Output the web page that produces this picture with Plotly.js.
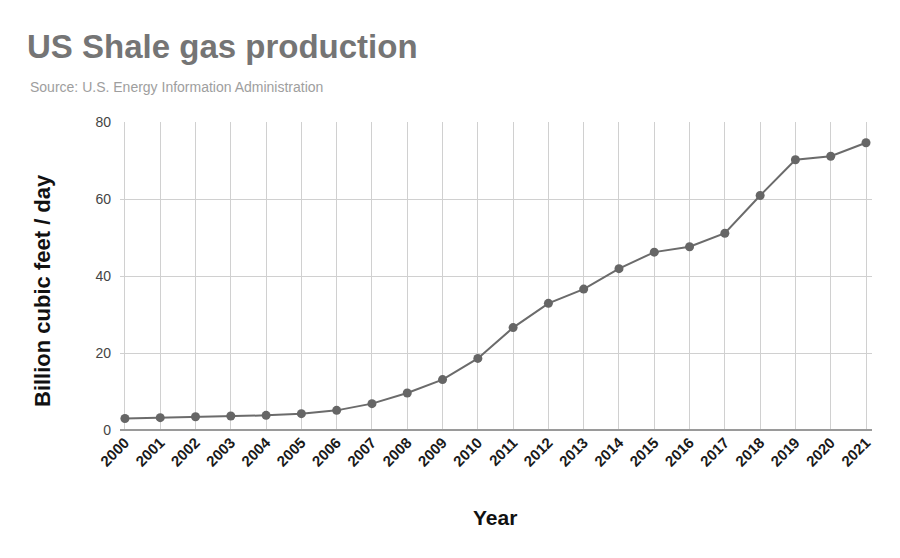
<!DOCTYPE html>
<html><head><meta charset="utf-8">
<script src="https://cdn.plot.ly/plotly-3.0.1.min.js"></script>
<style>html,body{margin:0;padding:0;background:#fff;}#chart{width:900px;height:558px;}</style>
</head><body><div id="chart"></div>
<script>
const years = ["2000","2001","2002","2003","2004","2005","2006","2007","2008","2009","2010","2011","2012","2013","2014","2015","2016","2017","2018","2019","2020","2021"];
const production = [3.0,3.2,3.45,3.65,3.8,4.25,5.1,6.85,9.6,13.1,18.6,26.6,32.9,36.6,41.9,46.2,47.6,51.1,60.9,70.2,71.1,74.6];
const yTicks = [0,20,40,60,80];

const font = "Arial, 'Liberation Sans', sans-serif";
const L = 120, R = 28, T = 122, B = 128, W = 900, H = 558;
const pw = W - L - R, ph = H - T - B;
Plotly.newPlot('chart', [{
  x: years, y: production, type: 'scatter', mode: 'lines+markers',
  line: {color: '#6b6b6b', width: 2},
  marker: {color: '#666666', size: 9},
  hoverinfo: 'x+y'
}], {
  width: W, height: H,
  margin: {l: L, r: R, t: T, b: B},
  paper_bgcolor: '#ffffff', plot_bgcolor: '#ffffff',
  showlegend: false,
  font: {family: font, color: '#222'},
  title: {text: '<b>US Shale gas production</b>', font: {family: font, size: 33, color: '#757575'},
          x: 27/W, xanchor: 'left', xref: 'container', y: 1 - 46/H, yanchor: 'middle', yref: 'container'},
  annotations: [
    {text: 'Source: U.S. Energy Information Administration', xref: 'paper', yref: 'paper',
     x: (28-L)/pw, y: 1 + (T-87)/ph, xanchor: 'left', yanchor: 'middle', showarrow: false,
     font: {family: font, size: 14, color: '#9e9e9e'}},
    {text: '<b>Billion cubic feet / day</b>', xref: 'paper', yref: 'paper', textangle: -90,
     x: (42-L)/pw, y: (H-B-291)/ph, xanchor: 'center', yanchor: 'middle', showarrow: false,
     font: {family: font, size: 22, color: '#111'}},
    {text: '<b>Year</b>', xref: 'paper', yref: 'paper',
     x: (495-L)/pw, y: (H-B-517)/ph, xanchor: 'center', yanchor: 'middle', showarrow: false,
     font: {family: font, size: 21, color: '#111'}}
  ],
  xaxis: {
    type: 'category', range: [-0.14, 21.17],
    showgrid: true, gridcolor: '#d0d0d0', gridwidth: 1,
    tickangle: -45, tickfont: {family: font, size: 15, color: '#1a1a1a', weight: 'bold'},
    ticks: '', showline: false, zeroline: false
  },
  yaxis: {
    range: [0, 80], tickvals: yTicks, ticktext: yTicks.map(String),
    showgrid: true, gridcolor: '#d0d0d0', gridwidth: 1,
    zeroline: true, zerolinecolor: '#9a9a9a', zerolinewidth: 2,
    tickfont: {family: font, size: 14, color: '#444'}, ticks: '', ticklabelstandoff: 8,
    fixedrange: true
  }
}, {displayModeBar: false, staticPlot: true});
</script></body></html>
